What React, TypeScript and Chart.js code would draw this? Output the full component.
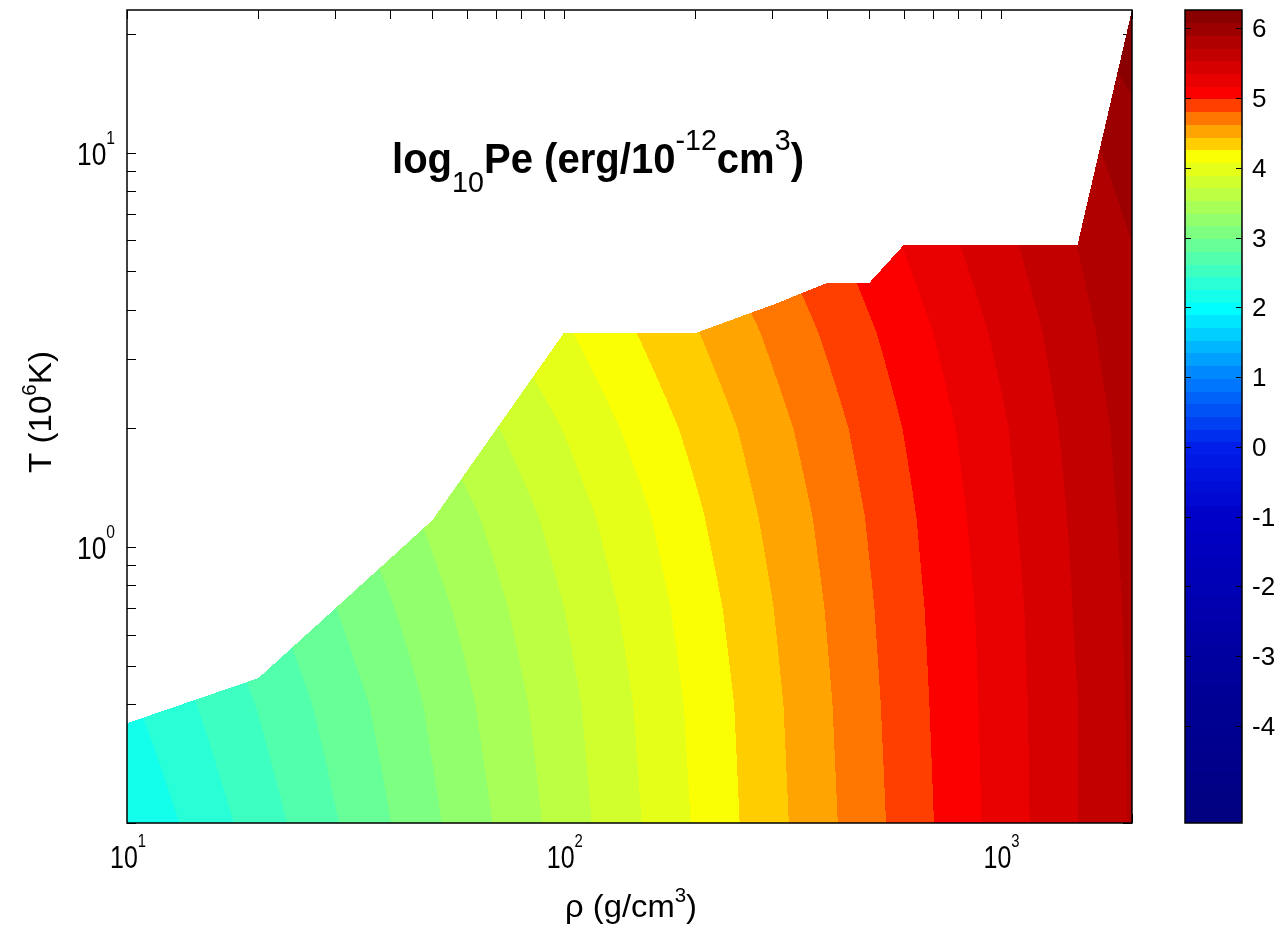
import React, { useEffect, useRef } from "react";
import { Chart, registerables } from "chart.js";
Chart.register(...registerables);

// ---- data grid: density (g/cm^3) and temperature (10^6 K) ----
const RHO = [10, 20, 40, 70, 100, 150, 250, 400, 600, 1000, 1500, 2000];
const TEMP = [0.2, 0.4, 0.7, 1.2, 2, 3.5, 6, 12, 23];
// log10 Pe for each temperature row, one value per density column
const PE_T0_2 = [2.08, 2.52, 2.98, 3.36, 3.61, 3.89, 4.25, 4.58, 4.87, 5.24, 5.53, 5.73];
const PE_T0_4 = [2.22, 2.63, 3.05, 3.42, 3.65, 3.92, 4.27, 4.6, 4.89, 5.25, 5.53, 5.74];
const PE_T0_7 = [2.36, 2.74, 3.15, 3.49, 3.71, 3.97, 4.31, 4.63, 4.91, 5.26, 5.55, 5.75];
const PE_T1_2 = [2.53, 2.89, 3.26, 3.58, 3.79, 4.04, 4.37, 4.67, 4.94, 5.29, 5.57, 5.77];
const PE_T2 = [2.71, 3.05, 3.4, 3.7, 3.9, 4.14, 4.44, 4.73, 4.99, 5.32, 5.6, 5.79];
const PE_T3_5 = [2.93, 3.25, 3.59, 3.87, 4.05, 4.27, 4.55, 4.83, 5.07, 5.39, 5.65, 5.84];
const PE_T6 = [3.14, 3.46, 3.78, 4.05, 4.22, 4.43, 4.69, 4.95, 5.18, 5.48, 5.72, 5.9];
const PE_T12 = [3.43, 3.74, 4.05, 4.31, 4.48, 4.67, 4.92, 5.15, 5.36, 5.63, 5.86, 6.02];
const PE_T23 = [3.71, 4.01, 4.32, 4.57, 4.73, 4.92, 5.15, 5.38, 5.57, 5.83, 6.06, 6.26];

// upper edge of the computed region
const EDGE_RHO = [10, 20, 50, 100, 200, 300, 400, 500, 600, 1500, 2000];
const EDGE_T = [0.358, 0.466, 1.17, 3.49, 3.49, 4.11, 4.67, 4.67, 5.83, 5.83, 23];

// axes
const X_MIN = 10, X_MAX = 2000, Y_MIN = 0.2, Y_MAX = 23;
const X_TICKS = [10, 20, 30, 40, 50, 60, 70, 80, 90, 100, 200, 300, 400, 500, 600, 700, 800, 900, 1000, 2000];
const Y_TICKS = [0.2, 0.3, 0.4, 0.5, 0.6, 0.7, 0.8, 0.9, 1, 2, 3, 4, 5, 6, 7, 8, 9, 10, 20];
const X_LABEL_VALUES = [10, 100, 1000];
const X_LABEL_EXP = ["1", "2", "3"];
const Y_LABEL_VALUES = [1, 10];
const Y_LABEL_EXP = ["0", "1"];

// colour bar
const CB_MIN = -5.39, CB_MAX = 6.26, N_LEVELS = 64;
const CB_TICKS = [-4, -3, -2, -1, 0, 1, 2, 3, 4, 5, 6];
const CMAP_VALUES = [-5.39, -3.5, -1.0, 0.0, 1.0, 2.0, 4.2, 4.35, 4.55, 4.75, 4.92, 5.05, 6.26];
const CMAP_COLORS = [
  [0, 0, 128], [0, 0, 150], [0, 0, 200], [0, 30, 235], [0, 128, 255], [0, 255, 255],
  [255, 255, 0], [255, 205, 0], [255, 160, 0], [255, 110, 0], [255, 55, 0], [255, 0, 0], [128, 0, 0],
];

const GRID = [PE_T0_2, PE_T0_4, PE_T0_7, PE_T1_2, PE_T2, PE_T3_5, PE_T6, PE_T12, PE_T23];
const LR = RHO.map((v) => Math.log10(v));
const LT = TEMP.map((v) => Math.log10(v));
const LER = EDGE_RHO.map((v) => Math.log10(v));
const LET = EDGE_T.map((v) => Math.log10(v));
const STEP = (CB_MAX - CB_MIN) / N_LEVELS;
const FONT = '"Liberation Sans", Arial, Helvetica, sans-serif';

function cmap(v: number): number[] {
  if (v <= CMAP_VALUES[0]) return CMAP_COLORS[0];
  for (let i = 0; i < CMAP_VALUES.length - 1; i++) {
    if (v <= CMAP_VALUES[i + 1]) {
      const f = (v - CMAP_VALUES[i]) / (CMAP_VALUES[i + 1] - CMAP_VALUES[i]);
      const a = CMAP_COLORS[i], b = CMAP_COLORS[i + 1];
      return [0, 1, 2].map((k) => Math.round(a[k] + (b[k] - a[k]) * f));
    }
  }
  return CMAP_COLORS[CMAP_COLORS.length - 1];
}
const BAND_COLORS = Array.from({ length: N_LEVELS }, (_, k) => cmap(CB_MIN + (k + 0.5) * STEP));

function interp1(xs: number[], ys: number[], x: number) {
  if (x <= xs[0]) return ys[0];
  for (let i = 0; i < xs.length - 1; i++) {
    if (x <= xs[i + 1]) return ys[i] + ((ys[i + 1] - ys[i]) * (x - xs[i])) / (xs[i + 1] - xs[i]);
  }
  return ys[ys.length - 1];
}

function valueAt(lr: number, lt: number) {
  let i = 0;
  while (i < LR.length - 2 && lr > LR[i + 1]) i++;
  let j = 0;
  while (j < LT.length - 2 && lt > LT[j + 1]) j++;
  const fx = Math.min(1, Math.max(0, (lr - LR[i]) / (LR[i + 1] - LR[i])));
  const fy = Math.min(1, Math.max(0, (lt - LT[j]) / (LT[j + 1] - LT[j])));
  const g = GRID;
  return (
    (1 - fx) * (1 - fy) * g[j][i] + fx * (1 - fy) * g[j][i + 1] +
    (1 - fx) * fy * g[j + 1][i] + fx * fy * g[j + 1][i + 1]
  );
}

type Seg = { t: string; k?: "sup" | "sub" };
type RichOpts = {
  size: number; small: number; bold?: boolean; supShift: number; subShift: number;
  align: "left" | "center" | "right"; width?: number;
};
function drawRich(ctx: CanvasRenderingContext2D, segs: Seg[], x: number, y: number, o: RichOpts) {
  const font = (s: number, b?: boolean) => `${b ? "bold " : ""}${s}px ${FONT}`;
  let total = 0;
  const ws = segs.map((s) => {
    ctx.font = s.k ? font(o.small, false) : font(o.size, o.bold);
    const w = ctx.measureText(s.t).width;
    total += w;
    return w;
  });
  const sx = o.width ? o.width / total : 1;
  const w = total * sx;
  const start = o.align === "left" ? x : o.align === "center" ? x - w / 2 : x - w;
  ctx.save();
  ctx.translate(start, y);
  ctx.scale(sx, 1);
  ctx.textAlign = "left";
  ctx.textBaseline = "alphabetic";
  ctx.fillStyle = "#000";
  let cx = 0;
  segs.forEach((s, i) => {
    ctx.font = s.k ? font(o.small, false) : font(o.size, o.bold);
    const dy = s.k === "sup" ? -o.supShift : s.k === "sub" ? o.subShift : 0;
    ctx.fillText(s.t, cx, dy);
    cx += ws[i];
  });
  ctx.restore();
}

const TICK = 9;
const CB_LEFT = 1185, CB_RIGHT = 1242;

const contourPlugin = {
  id: "contour",
  beforeDraw(chart: any) {
    const { ctx, width, height } = chart;
    ctx.save();
    ctx.fillStyle = "#fff";
    ctx.fillRect(0, 0, width, height);
    ctx.restore();
  },
  beforeDatasetsDraw(chart: any) {
    const { ctx, chartArea: a, scales } = chart;
    const x = scales.x, y = scales.y;
    ctx.save();
    ctx.strokeStyle = "#000";
    ctx.lineWidth = 1;
    ctx.beginPath();
    for (const v of X_TICKS) {
      const px = Math.round(x.getPixelForValue(v)) + 0.5;
      ctx.moveTo(px, a.top); ctx.lineTo(px, a.top + TICK);
      ctx.moveTo(px, a.bottom); ctx.lineTo(px, a.bottom - TICK);
    }
    for (const v of Y_TICKS) {
      const py = Math.round(y.getPixelForValue(v)) + 0.5;
      ctx.moveTo(a.left, py); ctx.lineTo(a.left + TICK, py);
      ctx.moveTo(a.right, py); ctx.lineTo(a.right - TICK, py);
    }
    ctx.stroke();
    ctx.restore();

    const w = Math.round(a.right - a.left), h = Math.round(a.bottom - a.top);
    const off = document.createElement("canvas");
    off.width = w; off.height = h;
    const octx = off.getContext("2d")!;
    const img = octx.createImageData(w, h);
    const d = img.data;
    const lys = new Float64Array(h);
    for (let j = 0; j < h; j++) lys[j] = Math.log10(y.getValueForPixel(a.top + j + 0.5));
    for (let i = 0; i < w; i++) {
      const lr = Math.log10(x.getValueForPixel(a.left + i + 0.5));
      const lim = interp1(LER, LET, lr);
      for (let j = 0; j < h; j++) {
        if (lys[j] > lim) continue;
        const v = valueAt(lr, lys[j]);
        let k = Math.floor((v - CB_MIN) / STEP);
        if (k < 0) k = 0;
        if (k >= N_LEVELS) k = N_LEVELS - 1;
        const c = BAND_COLORS[k];
        const p = (j * w + i) * 4;
        d[p] = c[0]; d[p + 1] = c[1]; d[p + 2] = c[2]; d[p + 3] = 255;
      }
    }
    octx.putImageData(img, 0, 0);
    ctx.drawImage(off, a.left, a.top);
  },
  afterDraw(chart: any) {
    const { ctx, chartArea: a, scales } = chart;
    const x = scales.x, y = scales.y, cb = scales.cb;
    // plot box
    ctx.save();
    ctx.strokeStyle = "#000";
    ctx.lineWidth = 1.5;
    ctx.strokeRect(a.left, a.top, a.right - a.left, a.bottom - a.top);
    ctx.restore();

    // tick labels
    X_LABEL_VALUES.forEach((v, i) => {
      drawRich(ctx, [{ t: "10" }, { t: X_LABEL_EXP[i], k: "sup" }], x.getPixelForValue(v) + 1, 868,
        { size: 32, small: 19, supShift: 21, subShift: 0, align: "center", width: 36 });
    });
    Y_LABEL_VALUES.forEach((v, i) => {
      drawRich(ctx, [{ t: "10" }, { t: Y_LABEL_EXP[i], k: "sup" }], 115, y.getPixelForValue(v) + 12,
        { size: 32, small: 19, supShift: 21, subShift: 0, align: "right", width: 38 });
    });

    // axis titles
    drawRich(ctx, [{ t: "\u03c1 (g/cm" }, { t: "3", k: "sup" }, { t: ")" }], 631, 917,
      { size: 32, small: 20, supShift: 15, subShift: 0, align: "center", width: 132 });
    ctx.save();
    ctx.translate(51, 412);
    ctx.rotate(-Math.PI / 2);
    drawRich(ctx, [{ t: "T (10" }, { t: "6", k: "sup" }, { t: "K)" }], 0, 0,
      { size: 32, small: 20, supShift: 15, subShift: 0, align: "center", width: 122 });
    ctx.restore();

    // title inside the axes
    drawRich(ctx,
      [{ t: "log" }, { t: "10", k: "sub" }, { t: "Pe (erg/10" }, { t: "-12", k: "sup" }, { t: "cm" }, { t: "3", k: "sup" }, { t: ")" }],
      392, 173, { size: 42, small: 30, bold: true, supShift: 23, subShift: 19, align: "left", width: 412 });

    // colour bar
    for (let k = 0; k < N_LEVELS; k++) {
      const lo = cb.getPixelForValue(CB_MIN + k * STEP);
      const hi = cb.getPixelForValue(CB_MIN + (k + 1) * STEP);
      const c = BAND_COLORS[k];
      ctx.fillStyle = `rgb(${c[0]},${c[1]},${c[2]})`;
      ctx.fillRect(CB_LEFT, Math.floor(hi), CB_RIGHT - CB_LEFT, Math.ceil(lo) - Math.floor(hi));
    }
    ctx.save();
    ctx.strokeStyle = "#000";
    ctx.lineWidth = 1.5;
    const top = cb.getPixelForValue(CB_MAX), bot = cb.getPixelForValue(CB_MIN);
    ctx.strokeRect(CB_LEFT, top, CB_RIGHT - CB_LEFT, bot - top);
    ctx.lineWidth = 1;
    ctx.beginPath();
    for (const v of CB_TICKS) {
      const py = Math.round(cb.getPixelForValue(v)) + 0.5;
      ctx.moveTo(CB_LEFT, py); ctx.lineTo(CB_LEFT + 6, py);
      ctx.moveTo(CB_RIGHT, py); ctx.lineTo(CB_RIGHT - 6, py);
    }
    ctx.stroke();
    ctx.restore();
    CB_TICKS.forEach((v) => {
      drawRich(ctx, [{ t: String(v) }], 1252, cb.getPixelForValue(v) + 9,
        { size: 26, small: 18, supShift: 0, subShift: 0, align: "left" });
    });
  },
};

export default function App() {
  const ref = useRef<HTMLCanvasElement>(null);
  useEffect(() => {
    const chart = new Chart(ref.current as HTMLCanvasElement, {
      type: "scatter",
      data: { datasets: [] },
      options: {
        animation: false,
        responsive: false,
        layout: { padding: { top: 10, left: 0, right: 0, bottom: 0 } },
        plugins: { legend: { display: false }, tooltip: { enabled: false } },
        scales: {
          x: {
            type: "logarithmic", position: "bottom", min: X_MIN, max: X_MAX,
            grid: { display: false }, border: { display: false }, ticks: { display: false },
            afterFit: (s: any) => { s.height = 110; },
          },
          y: {
            type: "logarithmic", position: "left", min: Y_MIN, max: Y_MAX,
            grid: { display: false }, border: { display: false }, ticks: { display: false },
            afterFit: (s: any) => { s.width = 127; },
          },
          cb: {
            type: "linear", position: "right", min: CB_MIN, max: CB_MAX,
            grid: { display: false }, border: { display: false }, ticks: { display: false },
            afterFit: (s: any) => { s.width = 149; },
          },
        },
      } as any,
      plugins: [contourPlugin],
    });
    return () => chart.destroy();
  }, []);
  return (
    <div style={{ position: "absolute", left: 0, top: 0, width: 1281, height: 933, background: "#fff" }}>
      <canvas ref={ref} width={1281} height={933} style={{ display: "block" }} />
    </div>
  );
}
